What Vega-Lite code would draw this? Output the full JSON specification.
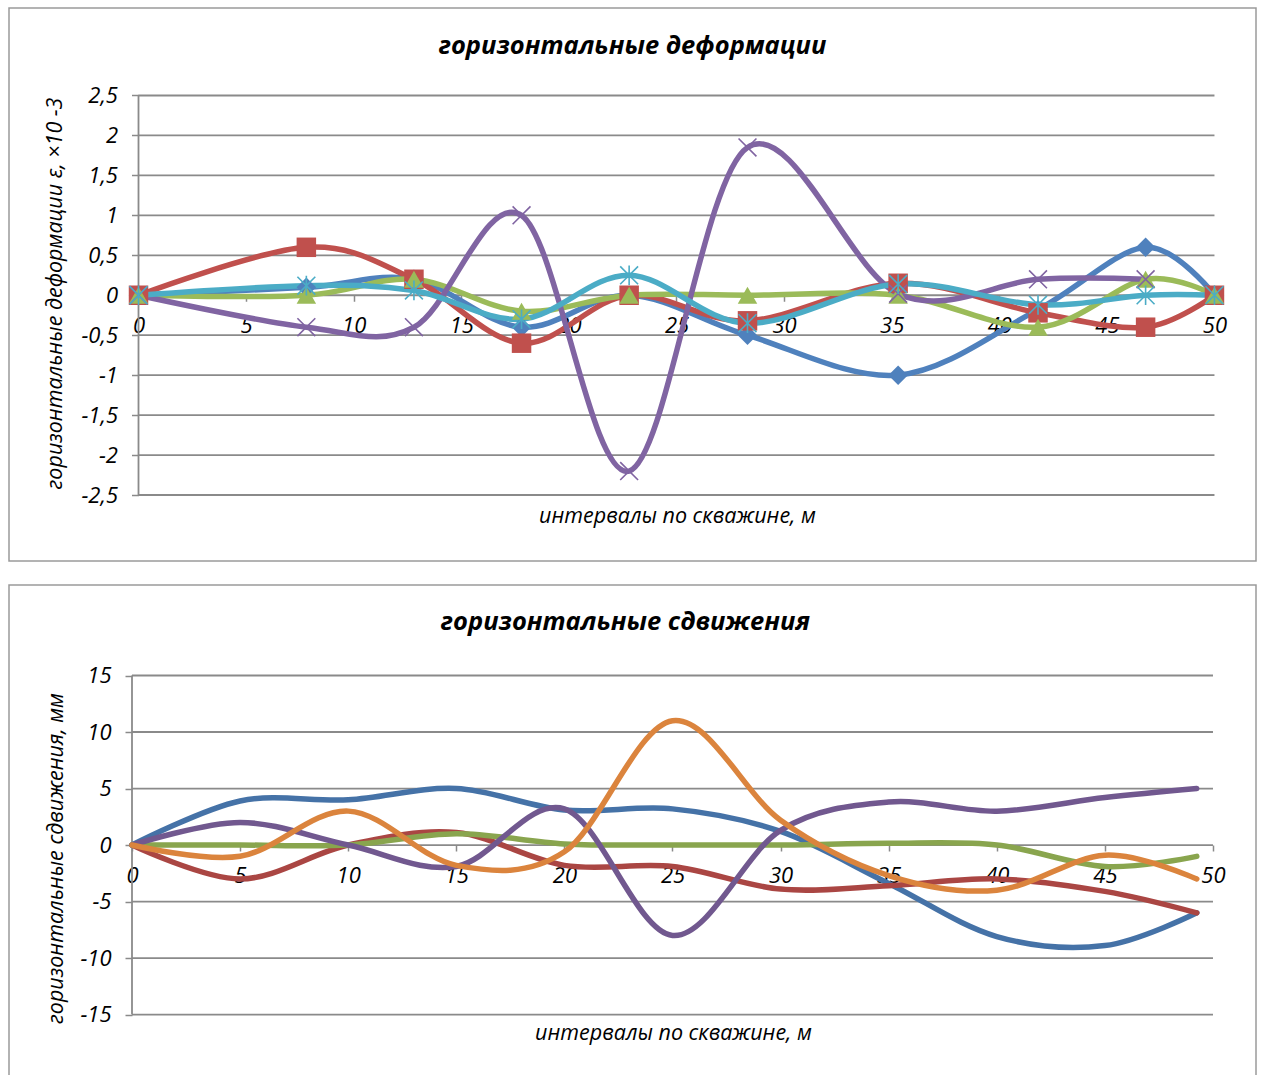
{
"$schema": "https://vega.github.io/schema/vega-lite/v6.json",
"padding": {"left": 8, "top": 7, "right": 0, "bottom": 0},
"background": "white",
"spacing": 22,
"config": {"view": {"stroke": "#9a9a9a", "strokeWidth": 1.5}, "font": "Open Sans", "axis": {"grid": false, "domain": false}},
"resolve": {"scale": {"x": "independent", "y": "independent", "color": "independent", "shape": "independent"}},
"datasets": {
"def": [
{"s":"a1","x":0,"y":0},{"s":"a1","x":7.8,"y":0.1},{"s":"a1","x":12.8,"y":0.2},{"s":"a1","x":17.8,"y":-0.4},{"s":"a1","x":22.8,"y":0},{"s":"a1","x":28.3,"y":-0.5},{"s":"a1","x":35.3,"y":-1.0},{"s":"a1","x":41.8,"y":-0.18},{"s":"a1","x":46.8,"y":0.6},{"s":"a1","x":50,"y":0},
{"s":"a2","x":0,"y":0},{"s":"a2","x":7.8,"y":0.6},{"s":"a2","x":12.8,"y":0.2},{"s":"a2","x":17.8,"y":-0.6},{"s":"a2","x":22.8,"y":0},{"s":"a2","x":28.3,"y":-0.32},{"s":"a2","x":35.3,"y":0.15},{"s":"a2","x":41.8,"y":-0.22},{"s":"a2","x":46.8,"y":-0.4},{"s":"a2","x":50,"y":0},
{"s":"a3","x":0,"y":0},{"s":"a3","x":7.8,"y":0},{"s":"a3","x":12.8,"y":0.2},{"s":"a3","x":17.8,"y":-0.2},{"s":"a3","x":22.8,"y":0},{"s":"a3","x":28.3,"y":0},{"s":"a3","x":35.3,"y":0},{"s":"a3","x":41.8,"y":-0.4},{"s":"a3","x":46.8,"y":0.2},{"s":"a3","x":50,"y":0},
{"s":"a4","x":0,"y":0},{"s":"a4","x":7.8,"y":-0.4},{"s":"a4","x":12.8,"y":-0.4},{"s":"a4","x":17.8,"y":1.0},{"s":"a4","x":22.8,"y":-2.2},{"s":"a4","x":28.3,"y":1.85},{"s":"a4","x":35.3,"y":0.02},{"s":"a4","x":41.8,"y":0.2},{"s":"a4","x":46.8,"y":0.2},
{"s":"a5","x":0,"y":0},{"s":"a5","x":7.8,"y":0.12},{"s":"a5","x":12.8,"y":0.06},{"s":"a5","x":17.8,"y":-0.3},{"s":"a5","x":22.8,"y":0.25},{"s":"a5","x":28.3,"y":-0.35},{"s":"a5","x":35.3,"y":0.14},{"s":"a5","x":41.8,"y":-0.12},{"s":"a5","x":46.8,"y":0},{"s":"a5","x":50,"y":0}
],
"sdv": [
{"s":"b1","x":0,"y":0},{"s":"b1","x":5,"y":3.9},{"s":"b1","x":10,"y":4.0},{"s":"b1","x":15,"y":5.0},{"s":"b1","x":20,"y":3.1},{"s":"b1","x":25,"y":3.2},{"s":"b1","x":30,"y":1.2},{"s":"b1","x":35,"y":-3.4},{"s":"b1","x":40,"y":-8.1},{"s":"b1","x":45,"y":-8.9},{"s":"b1","x":49.25,"y":-6.0},
{"s":"b2","x":0,"y":0},{"s":"b2","x":5,"y":-3.0},{"s":"b2","x":10,"y":0},{"s":"b2","x":15,"y":1.1},{"s":"b2","x":20,"y":-1.8},{"s":"b2","x":25,"y":-1.9},{"s":"b2","x":30,"y":-3.9},{"s":"b2","x":35,"y":-3.6},{"s":"b2","x":40,"y":-3.0},{"s":"b2","x":45,"y":-4.1},{"s":"b2","x":49.25,"y":-6.0},
{"s":"b3","x":0,"y":0},{"s":"b3","x":5,"y":0},{"s":"b3","x":10,"y":0},{"s":"b3","x":15,"y":1.0},{"s":"b3","x":20,"y":0.1},{"s":"b3","x":25,"y":0},{"s":"b3","x":30,"y":0},{"s":"b3","x":35,"y":0.15},{"s":"b3","x":40,"y":0},{"s":"b3","x":45,"y":-1.9},{"s":"b3","x":49.25,"y":-1.0},
{"s":"b4","x":0,"y":0},{"s":"b4","x":5,"y":2.0},{"s":"b4","x":10,"y":0},{"s":"b4","x":15,"y":-1.9},{"s":"b4","x":20,"y":3.2},{"s":"b4","x":25,"y":-8.0},{"s":"b4","x":30,"y":1.3},{"s":"b4","x":35,"y":3.8},{"s":"b4","x":40,"y":3.0},{"s":"b4","x":45,"y":4.2},{"s":"b4","x":49.25,"y":5.0},
{"s":"b5","x":0,"y":0},{"s":"b5","x":5,"y":-1.0},{"s":"b5","x":10,"y":3.0},{"s":"b5","x":15,"y":-1.8},{"s":"b5","x":20,"y":-0.6},{"s":"b5","x":25,"y":11.0},{"s":"b5","x":30,"y":2.2},{"s":"b5","x":35,"y":-2.7},{"s":"b5","x":40,"y":-4.0},{"s":"b5","x":45,"y":-0.9},{"s":"b5","x":49.25,"y":-3.0}
],
"grid1": [{"v":-2.5},{"v":-2},{"v":-1.5},{"v":-1},{"v":-0.5},{"v":0},{"v":0.5},{"v":1},{"v":1.5},{"v":2},{"v":2.5}],
"grid2": [{"v":-15},{"v":-10},{"v":-5},{"v":0},{"v":5},{"v":10},{"v":15}],
"axis0": [{"x":0}]
},
"vconcat": [
{
"width": 1247, "height": 553,
"title": {"text": "горизонтальные деформации", "font": "Open Sans", "fontSize": 25.5, "fontWeight": "bold", "fontStyle": "italic", "color": "#000000", "anchor": "middle", "baseline": "middle", "offset": -63},
"layer": [
{"data": {"name": "grid1"}, "mark": {"type": "rule", "color": "#8a8a8a", "strokeWidth": 1.8},
 "encoding": {
  "y": {"field": "v", "type": "quantitative", "scale": {"domain": [-3.326, 3.595], "nice": false, "zero": false},
   "axis": {"values": [-2.5,-2,-1.5,-1,-0.5,0,0.5,1,1.5,2,2.5], "offset": -129.5, "domain": false, "grid": false, "tickSize": 7, "tickColor": "#8a8a8a", "tickWidth": 1.5,
    "labelExpr": "replace(toString(datum.value), '.', ',')",
    "labelFont": "Open Sans", "labelFontStyle": "italic", "labelFontSize": 22, "labelColor": "#000000", "labelPadding": 14, "labelFlush": false, "labelOverlap": false,
    "title": "горизонтальные деформации ε, ×10 -3", "titleFont": "Open Sans", "titleFontStyle": "italic", "titleFontWeight": "normal", "titleFontSize": 21.5, "titleColor": "#000000", "titleX": -83, "titleY": 285, "titleAngle": -90, "titleBaseline": "middle", "titleAlign": "center"}},
  "x": {"datum": 0, "type": "quantitative", "scale": {"domain": [-6.018, 51.93], "nice": false, "zero": false},
   "axis": {"values": [0,5,10,15,20,25,30,35,40,45,50], "offset": -265.75, "domain": false, "grid": false, "tickSize": 6, "tickColor": "#8a8a8a", "tickWidth": 1.5,
    "labelFont": "Open Sans", "labelFontStyle": "italic", "labelFontSize": 22, "labelColor": "#000000", "labelPadding": 14, "labelFlush": false, "labelOverlap": false,
    "title": "интервалы по скважине, м", "titleFont": "Open Sans", "titleFontStyle": "italic", "titleFontWeight": "normal", "titleFontSize": 21.5, "titleColor": "#000000", "titleX": 668, "titleY": 221, "titleBaseline": "middle", "titleAlign": "center"}},
  "x2": {"datum": 50}}},
{"data": {"name": "axis0"}, "mark": {"type": "rule", "color": "#8a8a8a", "strokeWidth": 1.8},
 "encoding": {
  "x": {"field": "x", "type": "quantitative", "scale": {"domain": [-6.018, 51.93], "nice": false, "zero": false}},
  "y": {"datum": -2.5, "type": "quantitative", "scale": {"domain": [-3.326, 3.595], "nice": false, "zero": false}},
  "y2": {"datum": 2.5}}},
{"data": {"name": "def"}, "mark": {"type": "line", "interpolate": "cardinal", "strokeWidth": 5.5, "strokeCap": "round", "strokeJoin": "round"},
 "encoding": {
  "x": {"field": "x", "type": "quantitative", "scale": {"domain": [-6.018, 51.93], "nice": false, "zero": false}},
  "y": {"field": "y", "type": "quantitative", "scale": {"domain": [-3.326, 3.595], "nice": false, "zero": false}},
  "color": {"field": "s", "type": "nominal", "scale": {"domain": ["a1","a2","a3","a4","a5"], "range": ["#4F81BD","#C0504D","#9BBB59","#8064A2","#4BACC6"]}, "legend": null}}},
{"data": {"name": "def"}, "transform": [{"filter": {"field": "s", "oneOf": ["a1","a2","a3"]}}],
 "mark": {"type": "point", "filled": true, "opacity": 1, "size": 380},
 "encoding": {
  "x": {"field": "x", "type": "quantitative", "scale": {"domain": [-6.018, 51.93], "nice": false, "zero": false}},
  "y": {"field": "y", "type": "quantitative", "scale": {"domain": [-3.326, 3.595], "nice": false, "zero": false}},
  "shape": {"field": "s", "type": "nominal", "scale": {"domain": ["a1","a2","a3","a4","a5"], "range": ["diamond","square","triangle-up","M-1,-1L1,1M-1,1L1,-1","M-1,-1L1,1M-1,1L1,-1M0,-1.1L0,1.1"]}, "legend": null},
  "color": {"field": "s", "type": "nominal", "legend": null}}},
{"data": {"name": "def"}, "transform": [{"filter": {"field": "s", "oneOf": ["a4","a5"]}}],
 "mark": {"type": "point", "filled": false, "opacity": 1, "size": 320, "strokeWidth": 1.6},
 "encoding": {
  "x": {"field": "x", "type": "quantitative", "scale": {"domain": [-6.018, 51.93], "nice": false, "zero": false}},
  "y": {"field": "y", "type": "quantitative", "scale": {"domain": [-3.326, 3.595], "nice": false, "zero": false}},
  "shape": {"field": "s", "type": "nominal", "legend": null},
  "color": {"field": "s", "type": "nominal", "legend": null}}}
]
},
{
"width": 1247, "height": 510,
"title": {"text": "горизонтальные сдвижения", "font": "Open Sans", "fontSize": 25.5, "fontWeight": "bold", "fontStyle": "italic", "color": "#000000", "anchor": "middle", "baseline": "middle", "offset": -62, "dx": -7},
"layer": [
{"data": {"name": "grid2"}, "mark": {"type": "rule", "color": "#8a8a8a", "strokeWidth": 1.8},
 "encoding": {
  "y": {"field": "v", "type": "quantitative", "scale": {"domain": [-22.12, 23.01], "nice": false, "zero": false},
   "axis": {"values": [-15,-10,-5,0,5,10,15], "offset": -123, "domain": false, "grid": false, "tickSize": 7, "tickColor": "#8a8a8a", "tickWidth": 1.5,
    "labelExpr": "toString(datum.value)",
    "labelFont": "Open Sans", "labelFontStyle": "italic", "labelFontSize": 22, "labelColor": "#000000", "labelPadding": 14, "labelFlush": false, "labelOverlap": false,
    "title": "горизонтальные сдвижения, мм", "titleFont": "Open Sans", "titleFontStyle": "italic", "titleFontWeight": "normal", "titleFontSize": 21.5, "titleColor": "#000000", "titleX": -76, "titleY": 273, "titleAngle": -90, "titleBaseline": "middle", "titleAlign": "center"}},
  "x": {"datum": 0, "type": "quantitative", "scale": {"domain": [-5.689, 51.99], "nice": false, "zero": false},
   "axis": {"values": [0,5,10,15,20,25,30,35,40,45,50], "offset": -250, "domain": false, "grid": false, "tickSize": 6, "tickColor": "#8a8a8a", "tickWidth": 1.5,
    "labelFont": "Open Sans", "labelFontStyle": "italic", "labelFontSize": 22, "labelColor": "#000000", "labelPadding": 14, "labelFlush": false, "labelOverlap": false,
    "title": "интервалы по скважине, м", "titleFont": "Open Sans", "titleFontStyle": "italic", "titleFontWeight": "normal", "titleFontSize": 21.5, "titleColor": "#000000", "titleX": 664, "titleY": 188, "titleBaseline": "middle", "titleAlign": "center"}},
  "x2": {"datum": 50}}},
{"data": {"name": "axis0"}, "mark": {"type": "rule", "color": "#8a8a8a", "strokeWidth": 1.8},
 "encoding": {
  "x": {"field": "x", "type": "quantitative", "scale": {"domain": [-5.689, 51.99], "nice": false, "zero": false}},
  "y": {"datum": -15, "type": "quantitative", "scale": {"domain": [-22.12, 23.01], "nice": false, "zero": false}},
  "y2": {"datum": 15}}},
{"data": {"name": "sdv"}, "mark": {"type": "line", "interpolate": "cardinal", "strokeWidth": 5.5, "strokeCap": "round", "strokeJoin": "round"},
 "encoding": {
  "x": {"field": "x", "type": "quantitative", "scale": {"domain": [-5.689, 51.99], "nice": false, "zero": false}},
  "y": {"field": "y", "type": "quantitative", "scale": {"domain": [-22.12, 23.01], "nice": false, "zero": false}},
  "color": {"field": "s", "type": "nominal", "scale": {"domain": ["b1","b2","b3","b4","b5"], "range": ["#4572A7","#AA4643","#89A54E","#71588F","#DB843D"]}, "legend": null}}}
]
}
]
}
